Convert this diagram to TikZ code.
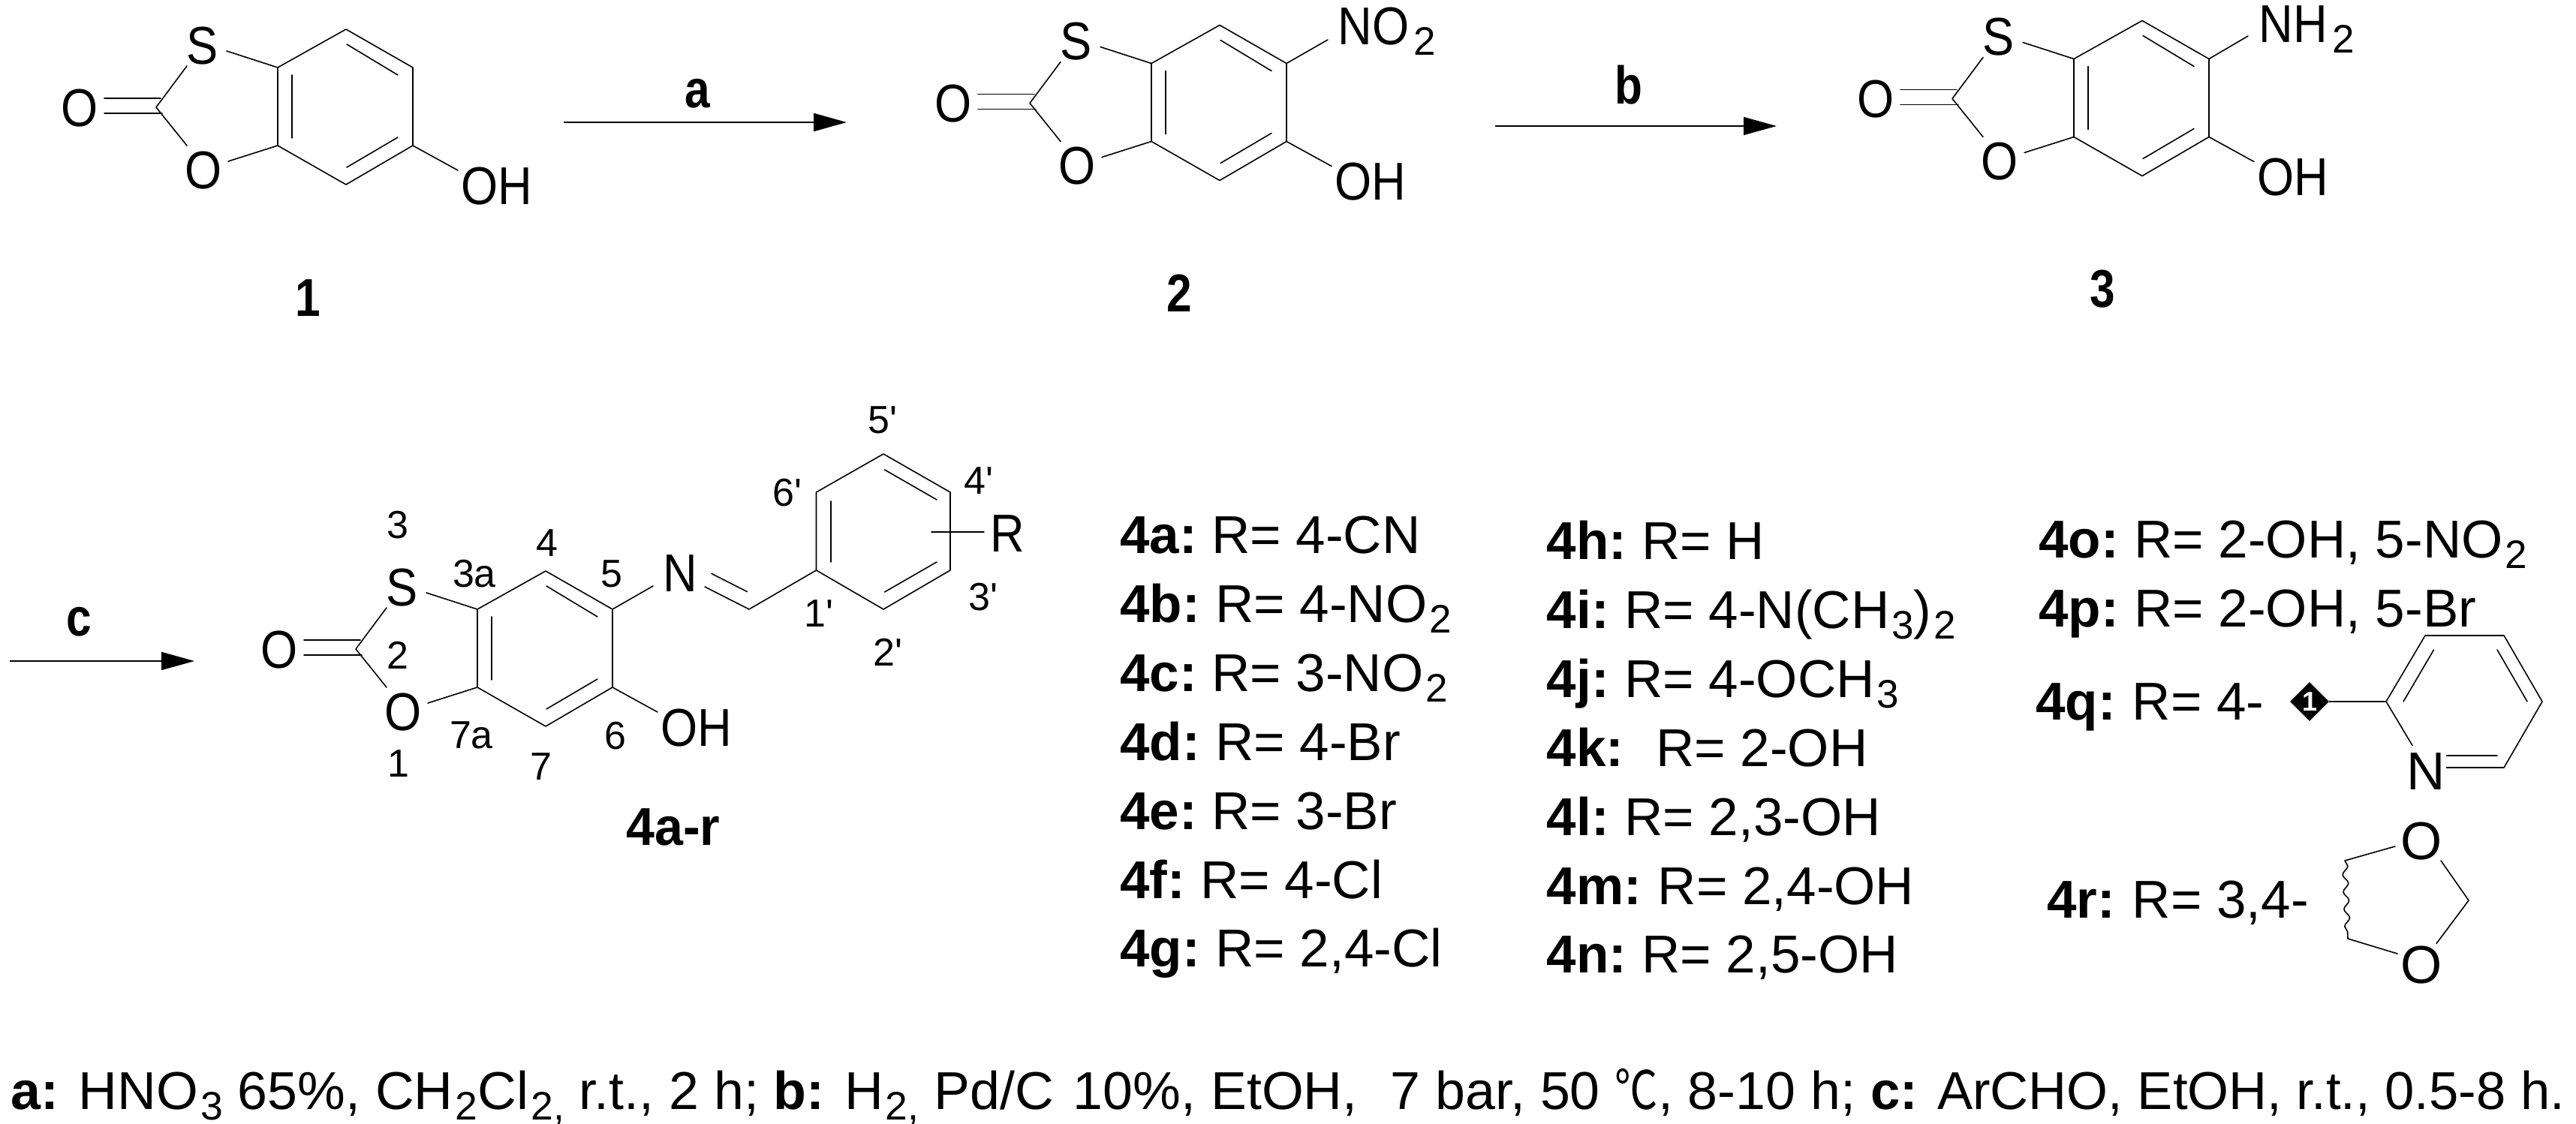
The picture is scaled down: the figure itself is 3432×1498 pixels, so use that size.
\documentclass[tikz,border=0pt]{standalone}
\usepackage{fontspec}
\usepackage{graphicx}
\setmainfont{Liberation Sans}
\newfontfamily\plainf{Liberation Sans}
\newfontfamily\cjkf{Noto Sans CJK SC}
\usetikzlibrary{arrows.meta,shapes.geometric,decorations.pathmorphing}
\newcommand\fbig{\fontsize{35.5}{40}\selectfont}
\newcommand\fnum{\plainf\fontsize{26}{30}\selectfont}
\newcommand\sbs[1]{\kern1.5pt\raisebox{-7pt}{\fontsize{26.5}{30}\selectfont #1}}
\newcommand\nar[1]{\scalebox{.89}[1]{#1}}
\newcommand\bnar[1]{\scalebox{.85}[1]{\textbf{#1}}}
\newcommand\entry[6]{%
  \node[base west txt] (l#1) at (#2,#3) {\textbf{#4}};
  \node[base west txt,xshift=-2.5pt] (r#1) at (#5,#3) {R= #6};}
\tikzset{
  bond/.style={line width=.8pt,line cap=round,line join=round},
  atom/.style={font=\fbig,inner sep=0pt,anchor=center},
  num/.style={font=\fnum,inner sep=0pt,anchor=center},
  base west txt/.style={font=\fbig,inner sep=0pt,anchor=base west},
  rxn/.style={-{Triangle[length=22pt,width=12pt]}},
  core/.pic={
    \coordinate (-t) at (461,39);
    \coordinate (-ur) at (550,90);
    \coordinate (-lr) at (550,194);
    \coordinate (-b) at (461,246);
    \coordinate (-ll) at (370,194);
    \coordinate (-ul) at (370,90);
    \coordinate (-c2) at (208,143);
    \node[atom] (-S) at (270,61) {\nar{S}};
    \node[atom] (-O) at (271,227) {\nar{O}};
    \node[atom] (-Oc) at (106,144) {\nar{O}};
    \node[atom] (-OH) at (662,248) {\nar{OH}};
    \draw[bond] (-t)--(-ur)--(-lr)--(-b)--(-ll)--(-ul)--cycle;
    \draw[bond] (249,88)--(-c2)--(249,194);
    \draw[bond] (302,68)--(-ul);
    \draw[bond] (304,215)--(-ll);
    \draw[bond] (139,131)--(214,131);
    \draw[bond] (139,151)--(216,151);
    \draw[bond] (389,100)--(389,184);
    \draw[bond] (462,59)--(530,100);
    \draw[bond] (530,183)--(462,223);
    \draw[bond] (-lr)--(610,227);
  }
}
\begin{document}
\begin{tikzpicture}[x=.5pt,y=-.5pt]
\useasboundingbox (0,0) rectangle (3432,1498);
\fill[white] (0,0) rectangle (3432,1498);
% compounds 1-3
\pic (m1) at (0,0) {core};
\pic (m2) at (1164,-5.5) {core};
\pic (m3) at (2393,-11.5) {core};
\node[base west txt,xshift=-2pt] (no2) at (1786,60) {\nar{NO}\kern1.5pt\sbs{2}};
\node[base west txt,xshift=-2pt] (nh2) at (3013,57) {\nar{NH}\kern2pt\sbs{2}};
\draw[bond] (m2-ur)--(1769,53);
\draw[bond] (m3-ur)--(2995,48);
\node[atom] (n1) at (410,397) {\bnar{1}};
\node[atom] (n2) at (1571,391) {\bnar{2}};
\node[atom] (n3) at (2801,385) {\bnar{3}};
% arrows
\coordinate (a1) at (751,163); \coordinate (a2) at (1128,163);
\coordinate (b1) at (1992,168); \coordinate (b2) at (2367,168);
\coordinate (c1) at (13,881); \coordinate (c2) at (259,881);
\draw[rxn,line width=1.1pt] (a1)--(a2);
\draw[rxn,line width=.7pt] (b1)--(b2);
\draw[rxn,line width=.9pt] (c1)--(c2);
\node[atom] (la) at (929,125) {\bnar{a}};
\node[atom] (lb) at (2170,113) {\bnar{b}};
\node[atom] (lc) at (105,829) {\bnar{c}};
% compound 4
\pic (m4) at (266,722) {core};
\node[atom] (N4) at (906,764) {\nar{N}};
\node[atom] (R4) at (1342,711) {\nar{R}};
\coordinate (im) at (998,812);
\coordinate (p1) at (1087.5,760);
\coordinate (p2) at (1087.5,656);
\coordinate (p3) at (1177,605);
\coordinate (p4) at (1266,656);
\coordinate (p5) at (1266,760);
\coordinate (p6) at (1177,812);
\draw[bond] (m4-ur)--(870,781);
\draw[bond] (939,782)--(im)--(p1);
\draw[bond] (948,764.5)--(995.5,788.6);
\draw[bond] (p1)--(p2)--(p3)--(p4)--(p5)--(p6)--cycle;
\draw[bond] (1107,668)--(1107,749);
\draw[bond] (1178.5,626)--(1248,666);
\draw[bond] (1248,749)--(1178.5,789);
\draw[bond] (1241,709)--(1311,709);
\node[num] (k3) at (529.5,700) {3};
\node[num] (k4) at (729,724) {4};
\node[num] (k3a) at (632,764.5) {3a};
\node[num] (k5) at (815,764.5) {5};
\node[num] (k2) at (529.5,873.5) {2};
\node[num] (k1) at (531,1017.5) {1};
\node[num] (k7a) at (628,979.6) {7a};
\node[num] (k7) at (721,1022) {7};
\node[num] (k6) at (820,981) {6};
\node[num] (k5p) at (1176,560) {5'};
\node[num] (k6p) at (1049,657) {6'};
\node[num] (k4p) at (1304,641) {4'};
\node[num] (k3p) at (1310,796) {3'};
\node[num] (k1p) at (1091,817.5) {1'};
\node[num] (k2p) at (1183,869) {2'};
\node[atom] (n4) at (897,1102) {\scalebox{.96}[1]{\textbf{4a-r}}};
% column 1
\entry{a}{1492}{737.5}{4a:}{1619}{4-CN}
\entry{b}{1492}{829.4}{4b:}{1624}{4-NO\sbs{2}}
\entry{c}{1492}{921}{4c:}{1619}{3-NO\sbs{2}}
\entry{d}{1492}{1013}{4d:}{1624}{4-Br}
\entry{e}{1492}{1105}{4e:}{1619}{3-Br}
\entry{f}{1492}{1197}{4f:}{1604}{4-Cl}
\entry{g}{1492}{1288.6}{4g:}{1624}{2,4-Cl}
% column 2
\entry{h}{2060.4}{745.7}{4h:}{2192}{H}
\entry{i}{2060.4}{837.6}{4i:}{2169}{4-N(CH\sbs{3})\sbs{2}}
\entry{j}{2060.4}{929.4}{4j:}{2169}{4-OCH\sbs{3}}
\entry{k}{2060.4}{1021}{4k:}{2211}{2-OH}
\entry{l}{2060.4}{1113}{4l:}{2169}{2,3-OH}
\entry{m}{2060.4}{1205}{4m:}{2213.5}{2,4-OH}
\entry{n}{2060.4}{1296.7}{4n:}{2192}{2,5-OH}
% column 3
\entry{o}{2716}{743}{4o:}{2848}{2-OH, 5-NO\sbs{2}}
\entry{p}{2716}{835}{4p:}{2848}{2-OH, 5-Br}
\entry{q}{2712}{959}{4q:}{2845.5}{4-}
\entry{r}{2727}{1223}{4r:}{2845.5}{3,4-}
% pyridine
\node[diamond,fill=black,text=white,minimum width=26pt,minimum height=26pt,inner sep=0pt,font=\fontsize{18}{18}\selectfont\bfseries] (dia) at (3077,935) {1};
\coordinate (py1) at (3179,935);
\coordinate (py2) at (3231,847);
\coordinate (py3) at (3336,847);
\coordinate (py4) at (3387,935);
\coordinate (py5) at (3336,1023);
\node[atom] (pyN) at (3232.5,1028) {N};
\draw[bond] (dia.east)--(py1);
\draw[bond] (3214,993.5)--(py1)--(py2)--(py3)--(py4)--(py5)--(3259.5,1023);
\draw[bond] (3259.5,1007)--(3327,1007);
\draw[bond] (3242.5,866)--(3202,935);
\draw[bond] (3327,866)--(3367,935);
% dioxole
\node[atom] (dO1) at (3226,1121) {O};
\node[atom] (dO2) at (3226,1286.5) {O};
\coordinate (dw1) at (3124,1147);
\coordinate (dw2) at (3128,1251);
\coordinate (dc) at (3289,1200);
\draw[bond] (3191,1128)--(dw1);
\draw[bond] (3194,1271)--(dw2);
\draw[bond] (3252,1147)--(dc)--(3246,1257.5);
\draw[bond,decorate,decoration={snake,amplitude=1.8pt,segment length=11.5pt}] (dw1)--(dw2);
% footnote
\node[base west txt] (foot) at (14,1478) {\scalebox{1.01}[1]{\textbf{a:} HNO\sbs{3} 65\%, CH\sbs{2}Cl\sbs{2,} r.t., 2 h; \textbf{b:} H\sbs{2,} Pd/C\kern3pt{} 10\%, EtOH,\kern12pt{} 7 bar, 50 {\cjkf\scalebox{.8}[1]{℃}}, 8-10 h; \scalebox{.985}[1]{\textbf{c:} ArCHO, EtOH, r.t., 0.5-8 h.}}};
\end{tikzpicture}
\end{document}
